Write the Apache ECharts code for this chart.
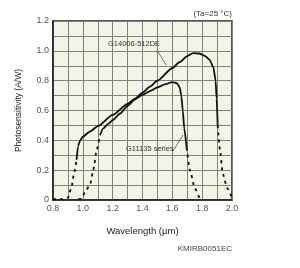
<!DOCTYPE html>
<html>
<head>
<meta charset="utf-8">
<script src="https://cdn.jsdelivr.net/npm/echarts@6/dist/echarts.min.js"></script>
<style>
  html, body { margin: 0; padding: 0; background: #fff; }
  #chart { width: 300px; height: 268px; }
</style>
</head>
<body>
<div id="chart"></div>
<script>
// wavelength (um), photosensitivity (A/W)
const g14006DashLeft = [[0.80, 0.006], [0.86, 0.006], [0.90, 0.015], [0.925, 0.09], [0.941, 0.18], [0.958, 0.27]];
const g14006Solid = [[0.958, 0.27], [0.968, 0.36], [0.982, 0.40], [1.0, 0.425], [1.05, 0.46], [1.1, 0.495],
  [1.2, 0.57], [1.3, 0.645], [1.35, 0.68], [1.4, 0.72], [1.45, 0.76], [1.5, 0.80], [1.6, 0.885], [1.65, 0.925], [1.7, 0.965],
  [1.74, 0.985], [1.78, 0.982], [1.82, 0.965], [1.85, 0.94], [1.875, 0.89], [1.89, 0.80], [1.897, 0.68], [1.904, 0.50]];
const g14006DashRight = [[1.904, 0.50], [1.92, 0.335], [1.937, 0.18], [1.968, 0.08], [2.0, 0.015]];

const g11135DashLeft = [[0.97, 0.006], [0.99, 0.008], [1.014, 0.05], [1.05, 0.11], [1.07, 0.2], [1.093, 0.335], [1.115, 0.435]];
const g11135Solid = [[1.115, 0.435], [1.137, 0.48], [1.17, 0.51], [1.2, 0.535], [1.25, 0.58], [1.3, 0.632], [1.35, 0.675],
  [1.4, 0.705], [1.45, 0.73], [1.5, 0.755], [1.55, 0.775], [1.6, 0.79], [1.63, 0.783], [1.65, 0.755],
  [1.66, 0.70], [1.67, 0.60], [1.68, 0.48], [1.696, 0.35]];
const g11135DashRight = [[1.696, 0.35], [1.718, 0.20], [1.75, 0.08], [1.785, 0.013], [1.80, 0.006]];

const font = "Liberation Sans";
const chart = echarts.init(document.getElementById("chart"));

function curve(data, dashed) {
  return {
    type: "line",
    data: data,
    showSymbol: false,
    smooth: 0.2,
    smoothMonotone: "x",
    lineStyle: {
      color: "#111",
      width: 1.8,
      type: dashed ? [3, 4] : "solid",
    },
    silent: true,
    z: 3,
  };
}

chart.setOption({
  animation: false,
  grid: {
    left: 53, right: 68, top: 21, bottom: 68,
    show: true,
    backgroundColor: "#f3f3e6",
    borderColor: "#222",
    borderWidth: 1.5,
  },
  xAxis: {
    type: "value",
    min: 0.8, max: 2.0, interval: 0.2,
    name: "Wavelength (µm)",
    nameLocation: "middle",
    nameGap: 26,
    nameTextStyle: { color: "#222", fontSize: 9.5, fontFamily: font },
    axisLine: { show: true, lineStyle: { color: "#222", width: 1.5 } },
    axisTick: { show: false },
    axisLabel: {
      color: "#555", fontSize: 9, fontFamily: font, margin: 4,
      formatter: (v) => v.toFixed(1),
    },
    splitLine: { show: true, lineStyle: { color: "#808080", width: 1 } },
    minorTick: { show: false, splitNumber: 2 },
    minorSplitLine: { show: true, lineStyle: { color: "#808080", width: 1 } },
  },
  yAxis: {
    type: "value",
    min: 0, max: 1.2, interval: 0.2,
    name: "Photosensitivity (A/W)",
    nameLocation: "middle",
    nameGap: 30,
    nameTextStyle: { color: "#222", fontSize: 8.5, fontFamily: font },
    axisLine: { show: true, lineStyle: { color: "#222", width: 1.5 } },
    axisTick: { show: false },
    axisLabel: {
      color: "#555", fontSize: 9, fontFamily: font, margin: 4,
      formatter: (v) => (v === 0 ? "0" : v.toFixed(1)),
    },
    splitLine: { show: true, lineStyle: { color: "#808080", width: 1 } },
    minorTick: { show: false, splitNumber: 2 },
    minorSplitLine: { show: true, lineStyle: { color: "#808080", width: 1 } },
  },
  series: [
    curve(g14006DashLeft, true),
    curve(g14006Solid, false),
    curve(g14006DashRight, true),
    curve(g11135DashLeft, true),
    curve(g11135Solid, false),
    curve(g11135DashRight, true),
  ],
  graphic: [
    {
      type: "text", right: 68, top: 10,
      style: { text: "(Ta=25 °C)", fill: "#333", font: "8px " + font, textAlign: "right" },
    },
    {
      type: "text", left: 108, top: 40, z: 10,
      style: { text: "G14006-512DE", fill: "#333", font: "7.5px " + font },
    },
    {
      type: "line", z: 10,
      shape: { x1: 157, y1: 50, x2: 166, y2: 65 },
      style: { stroke: "#555", lineWidth: 0.8 },
    },
    {
      type: "text", left: 126, top: 145, z: 10,
      style: { text: "G11135 series", fill: "#333", font: "7.5px " + font },
    },
    {
      type: "line", z: 10,
      shape: { x1: 173, y1: 151, x2: 183, y2: 135 },
      style: { stroke: "#555", lineWidth: 0.8 },
    },
    {
      type: "text", right: 68, top: 245,
      style: { text: "KMIRB0051EC", fill: "#444", font: "8px " + font, textAlign: "right" },
    },
  ],
});
</script>
</body>
</html>
